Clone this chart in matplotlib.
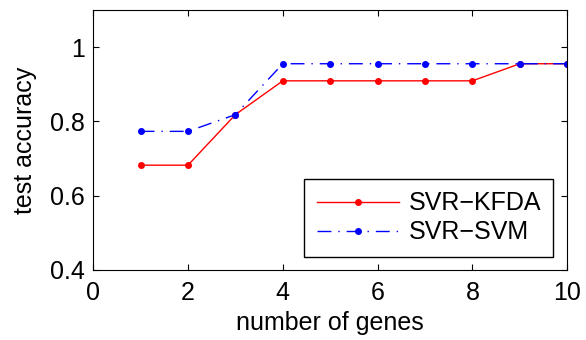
import matplotlib
matplotlib.use("Agg")
import matplotlib.pyplot as plt

plt.rcParams['font.family'] = ['Liberation Sans', 'DejaVu Sans']

genes = [1, 2, 3, 4, 5, 6, 7, 8, 9, 10]
svr_kfda = [0.682, 0.682, 0.818, 0.909, 0.909, 0.909, 0.909, 0.909, 0.955, 0.955]
svr_svm = [0.773, 0.773, 0.818, 0.955, 0.955, 0.955, 0.955, 0.955, 0.955, 0.955]

fs = 18

fig = plt.figure(figsize=(5.86, 3.4), dpi=100)
ax = fig.add_axes([0.159, 0.206, 0.809, 0.765])

ax.plot(genes, svr_kfda, color='red', linestyle='-', marker='.', markersize=8,
        linewidth=1, label='SVR\u2212KFDA')
ax.plot(genes, svr_svm, color='blue', linestyle=(0, (10, 5, 1, 5)), marker='.',
        markersize=8, linewidth=1, label='SVR\u2212SVM')

ax.set_xlim(0, 10)
ax.set_ylim(0.4, 1.1)
ax.set_xticks([0, 2, 4, 6, 8, 10])
ax.set_yticks([0.4, 0.6, 0.8, 1.0])
ax.set_yticklabels(['0.4', '0.6', '0.8', '1'])
ax.tick_params(direction='in', top=True, right=True, labelsize=fs, length=4)
ax.tick_params(axis='x', pad=8)
ax.tick_params(axis='y', pad=6)
ax.set_xlabel('number of genes', fontsize=fs, labelpad=4)
ax.set_ylabel('test accuracy', fontsize=fs, labelpad=9)

leg = ax.legend(loc='lower right', fontsize=fs, fancybox=False, framealpha=1,
                edgecolor='black', handlelength=3.3, handletextpad=0.36,
                borderpad=0.5, labelspacing=0.2, borderaxespad=0,
                bbox_to_anchor=(0.971, 0.05))
leg.get_frame().set_linewidth(1)

fig.savefig('out.png', dpi=100)
